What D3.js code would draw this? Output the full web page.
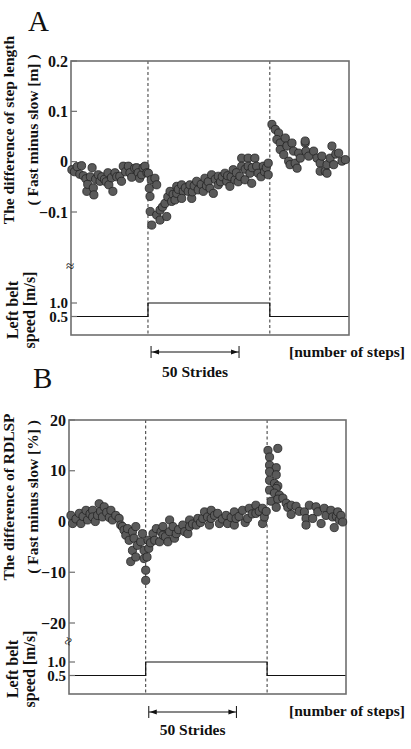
<!DOCTYPE html>
<html>
<head>
<meta charset="utf-8">
<script src="https://cdn.jsdelivr.net/npm/d3@7"></script>
<style>
  body { margin: 0; background: #fff; }
  svg text { font-family: "Liberation Serif", "Times New Roman", serif; font-weight: bold; fill: #111; }
</style>
</head>
<body>
<svg id="chart" width="411" height="749"></svg>
<script>
// stride number in the session
const stepLenA = [
  [0.5,-0.016],[2,-0.020],[3.5,-0.010],[5,-0.025],[6,-0.008],[7,-0.028],[8.5,-0.034],[9,-0.059],
  [9.5,-0.045],[11,-0.030],[12,-0.012],[12.7,-0.052],[13,-0.066],[14,-0.035],[15.5,-0.026],[16.5,-0.039],
  [17.5,-0.030],[19,-0.035],[20,-0.040],[21,-0.022],[21.5,-0.046],[23,-0.032],[23.8,-0.059],[25,-0.022],
  [26,-0.030],[27.7,-0.029],[28.7,-0.039],[29.7,-0.009],[31,-0.020],[32.6,-0.009],[33.5,-0.022],[34.5,-0.031],
  [36.2,-0.013],[37.3,-0.012],[38.2,-0.022],[39,-0.033],[40.2,-0.026],[41,-0.012],[42,-0.009],[43.2,-0.022],
  // split-belt period
  [44.0,-0.023],[44.5,-0.053],[44.9,-0.069],[45.0,-0.099],[45.9,-0.126],[45.6,-0.036],[47.7,-0.033],[48.7,-0.046],
  [48.7,-0.106],[50.6,-0.096],[50.6,-0.116],[52,-0.090],[53.4,-0.083],[54.4,-0.109],[55,-0.070],[56.3,-0.059],
  [57.2,-0.079],[58,-0.065],[59.1,-0.076],[60.1,-0.049],[60.1,-0.063],[61,-0.055],[62.9,-0.046],[63.8,-0.059],
  [62.9,-0.073],[65,-0.052],[66.6,-0.059],[67.6,-0.046],[68.6,-0.073],[69,-0.060],[70,-0.048],[71.4,-0.039],
  [72.3,-0.056],[74,-0.045],[75.2,-0.059],[76.1,-0.033],[77,-0.048],[78,-0.040],[79.0,-0.053],[79.9,-0.026],
  [80.9,-0.063],[82,-0.035],[83.7,-0.029],[83.7,-0.046],[85,-0.040],[86,-0.030],[87.5,-0.023],[88.5,-0.039],
  [89,-0.028],[90.3,-0.049],[91,-0.030],[92.2,-0.016],[93.2,-0.036],[94,-0.022],[95,-0.040],[96.0,-0.029],
  [97.0,0.007],[97.0,-0.009],[98.9,-0.036],[99,-0.015],[100.7,0.007],[100.7,-0.009],[101.7,-0.023],[102.7,-0.043],
  [103,-0.012],[104.5,0.007],[105.5,-0.009],[106.4,-0.023],[108,-0.030],[109.3,-0.009],[110,-0.020],[111,-0.012],
  [112.1,-0.003],[112.1,-0.026],
  // back to tied belt
  [114.2,0.074],[116.1,0.064],[118,0.057],[117,0.044],[118.9,0.037],[118.9,0.024],[120.9,0.014],[121.8,0.047],
  [122.7,0.031],[123.7,0.001],[124.5,-0.006],[125.6,0.037],[126.5,0.021],[127.4,-0.003],[128.5,-0.013],[129.4,0.017],
  [130.3,0.007],[133.1,0.037],[133.1,0.041],[133.5,0.021],[135.1,0.011],[137.9,0.021],[139.8,0.007],[141.6,-0.003],
  [141.6,-0.019],[142.6,0.011],[144.5,-0.019],[145.5,-0.023],[145.5,-0.006],[147.3,0.007],[148.3,0.031],[149.3,-0.006],
  [150.5,0.015],[152.1,0.017],[154,0.001],[155.9,0.004]
];

const rdlspB = [
  [1.1,1.2],[2.1,-0.4],[4,0.5],[5.9,1.6],[6.8,-0.4],[8,1.0],[9.7,2.2],[10.6,0.3],
  [12,1.5],[13.5,2.2],[13.5,0.9],[15,0.0],[16.3,1.2],[17.2,3.5],[18,2.0],[19.1,0.9],
  [20.1,2.9],[21.5,1.8],[23,0.8],[23.9,2.2],[24.8,0.3],[26.7,1.2],[28.6,0.6],[29.5,-0.7],
  [30.5,-1.0],[31.4,-1.7],[32.4,-2.7],[33.4,-1.4],[34.3,-3.7],[35.2,-7.9],[36.2,-2.0],[36.2,-5.7],
  [37.1,-3.3],[38.1,-1.0],[38.1,-7.0],[39,-4.7],[40.9,-4.0],[41.9,-2.4],[42.8,-5.7],[42.8,-7.3],
  [43.75,-9.6],[43.75,-11.6],
  // split-belt period
  [44.5,-7.0],[45.1,-3.7],[45.5,-5.3],[46.5,-4.2],[47.9,-2.4],[48.9,-3.7],[49.8,-1.4],[51.7,-4.0],
  [52.5,-2.0],[53.6,-1.0],[53.6,-2.7],[55,-3.0],[56.4,-4.0],[57.4,0.3],[57.4,-2.0],[59.3,-1.0],
  [60.2,-3.3],[61.2,-2.4],[62.5,-1.6],[64.9,-0.7],[66,-2.0],[67.8,-2.4],[68.8,0.3],[68.8,-1.0],
  [70.5,-0.5],[72.6,-0.7],[73.5,0.6],[75,-0.2],[76.3,0.6],[77.3,1.9],[79,0.9],[80.1,-0.7],
  [81.1,2.2],[81.1,0.6],[83,1.2],[84.8,1.6],[85.8,-0.4],[87.5,0.5],[89.6,1.2],[90.5,-0.4],
  [92.5,0.8],[94.3,1.9],[94.3,-0.7],[95.3,0.6],[97,1.0],[99,2.2],[100.5,-0.2],[101.9,0.6],
  [102.8,2.6],[104.5,1.5],[106.6,3.2],[106.6,1.6],[108.5,2.0],[110.4,2.6],[110.4,-0.4],[111.4,0.9],
  [112.5,2.0],
  // back to tied belt
  [113.5,14.0],[119.1,14.4],[114.4,12.7],[114.4,11.1],[118.2,10.6],[114.4,9.8],[118.2,9.2],[114.4,8.1],
  [117.2,7.5],[119.1,7.0],[118.2,6.5],[114.4,6.2],[117.2,5.6],[120,5.2],[115.3,4.0],[119.1,4.4],
  [122,4.6],[118.2,2.8],[123.9,3.6],[124.8,2.8],[126.7,3.2],[126.7,1.4],[129.5,3.0],[131.4,2.0],
  [134.3,1.9],[135.2,0.6],[135.2,-0.7],[137.1,3.2],[139,0.6],[140.9,2.9],[141.9,1.9],[143.8,-0.4],
  [145.6,2.6],[146.6,1.2],[149.4,2.2],[150.4,0.9],[151.3,-1.2],[152.5,1.0],[153.3,1.9],[154.2,0.3],
  [155.1,1.2],[156.1,-0.1]
];

const phaseEdges = [0, 43.75, 113, 158];   // strides: tied / split / tied
const beltSpeed = [0.5, 1.0, 0.5];          // left belt speed per phase [m/s]
const speedTicks = [1.0, 0.5];
const ticksA = [0.2, 0.1, 0, -0.1];
const ticksB = [20, 10, 0, -10, -20];
const strideBar = [45.5, 95.5];             // "50 Strides" marker

const svg = d3.select("#chart");

const panels = [
  {
    letter: "A", letterPos: [28, 31],
    box: { left: 71, right: 349, top: 61, bottom: 335 },
    data: stepLenA, yDomain: [-0.1, 0.2], yRange: [212, 61], ticks: ticksA,
    fmt: d => d === 0 ? "0" : d3.format(".1f")(d),
    speedRange: [316.5, 303],
    label: ["The difference of step length", "( Fast minus slow [m] )"], labelY: 130,
    speedLabelY: 310, breakY: 266, breakRot: 0,
    arrowY: 352, stridesY: 377, stepsY: 357
  },
  {
    letter: "B", letterPos: [33, 388],
    box: { left: 69, right: 346, top: 420, bottom: 694 },
    data: rdlspB, yDomain: [-20, 20], yRange: [623, 420], ticks: ticksB,
    fmt: d => d3.format("d")(d),
    speedRange: [675.5, 662],
    label: ["The difference of RDLSP", "( Fast minus slow [%] )"], labelY: 497,
    speedLabelY: 669, breakY: 641, breakRot: -70,
    arrowY: 712, stridesY: 735, stepsY: 716
  }
];

const drawPanel = (p) => {
  const g = svg.append("g");
  const b = p.box;
  const x = d3.scaleLinear().domain([0, 158]).range([b.left, b.right]);
  const y = d3.scaleLinear().domain(p.yDomain).range(p.yRange);
  const ys = d3.scaleLinear().domain([0.5, 1.0]).range(p.speedRange);

  // panel letter
  g.append("text")
    .attr("x", p.letterPos[0]).attr("y", p.letterPos[1])
    .style("font-weight", "normal").style("font-size", "29px")
    .text(p.letter);

  // phase boundaries
  g.selectAll("line.phase")
    .data(phaseEdges.slice(1, 3))
    .enter().append("line")
    .attr("class", "phase")
    .attr("x1", d => x(d)).attr("x2", d => x(d))
    .attr("y1", b.top).attr("y2", b.bottom)
    .attr("stroke", "#333").attr("stroke-width", 1)
    .style("stroke-dasharray", "3, 2.5");

  // belt speed step
  const steps = [];
  beltSpeed.forEach((s, i) => {
    steps.push([phaseEdges[i], s]);
    steps.push([phaseEdges[i + 1], s]);
  });
  g.append("path")
    .attr("fill", "none").attr("stroke", "#111").attr("stroke-width", 1.2)
    .attr("d", d3.line().x(d => x(d[0])).y(d => ys(d[1]))(steps));

  // frame
  g.append("rect")
    .attr("x", b.left).attr("y", b.top)
    .attr("width", b.right - b.left).attr("height", b.bottom - b.top)
    .attr("fill", "none").attr("stroke", "#6e6e6e").attr("stroke-width", 1.6);

  // y ticks (inward) + labels
  const tickSet = p.ticks.map(t => ({ y: y(t), txt: p.fmt(t), fs: 16 }))
    .concat(speedTicks.map(t => ({ y: ys(t), txt: d3.format(".1f")(t), fs: 15 })));
  g.selectAll("line.tick").data(tickSet).enter().append("line")
    .attr("x1", b.left).attr("x2", b.left + 6)
    .attr("y1", d => d.y).attr("y2", d => d.y)
    .attr("stroke", "#6e6e6e").attr("stroke-width", 1.2);
  g.selectAll("text.tick").data(tickSet).enter().append("text")
    .attr("x", b.left - 3).attr("y", d => d.y)
    .attr("text-anchor", "end").attr("dy", "0.35em")
    .style("font-size", d => d.fs + "px")
    .text(d => d.txt);

  // axis break mark
  g.append("text")
    .attr("transform", `translate(${b.left - 1},${p.breakY}) rotate(${p.breakRot})`)
    .attr("text-anchor", "middle").attr("dy", "0.35em")
    .style("font-weight", "normal").style("font-size", "15px")
    .text("\u2248");

  // y labels
  const yl = g.append("text")
    .attr("transform", `translate(0,${p.labelY}) rotate(-90)`)
    .attr("text-anchor", "middle").style("font-size", "15.5px");
  yl.append("tspan").attr("x", 0).attr("y", 13.5).text(p.label[0]);
  yl.append("tspan").attr("x", 0).attr("y", 37.5).text(p.label[1]);

  const sl = g.append("text")
    .attr("transform", `translate(0,${p.speedLabelY}) rotate(-90)`)
    .attr("text-anchor", "middle").style("font-size", "16px");
  sl.append("tspan").attr("x", 0).attr("y", 18).text("Left belt");
  sl.append("tspan").attr("x", 0).attr("y", 35).text("speed [m/s]");

  // points
  g.selectAll("circle")
    .data(p.data).enter().append("circle")
    .attr("cx", d => x(d[0])).attr("cy", d => y(d[1]))
    .attr("r", 4.1)
    .attr("fill", "#5a5a5a").attr("stroke", "#222").attr("stroke-width", 0.8);

  // 50 strides marker
  const x0 = x(strideBar[0]), x1 = x(strideBar[1]);
  const ay = p.arrowY;
  g.append("line").attr("x1", x0).attr("x2", x1).attr("y1", ay).attr("y2", ay)
    .attr("stroke", "#111").attr("stroke-width", 1);
  [x0, x1].forEach(xx => {
    g.append("line").attr("x1", xx).attr("x2", xx).attr("y1", ay - 6).attr("y2", ay + 6)
      .attr("stroke", "#111").attr("stroke-width", 1);
  });
  g.append("path").attr("fill", "#111")
    .attr("d", `M${x0 + 1},${ay} l7,-2.5 l0,5 Z M${x1 - 1},${ay} l-7,-2.5 l0,5 Z`);

  g.append("text")
    .attr("x", (x0 + x1) / 2).attr("y", p.stridesY)
    .attr("text-anchor", "middle").style("font-size", "15.5px")
    .text("50 Strides");
  g.append("text")
    .attr("x", 405).attr("y", p.stepsY)
    .attr("text-anchor", "end").style("font-size", "15.5px")
    .text("[number of steps]");
};

panels.forEach(drawPanel);
</script>
</body>
</html>
